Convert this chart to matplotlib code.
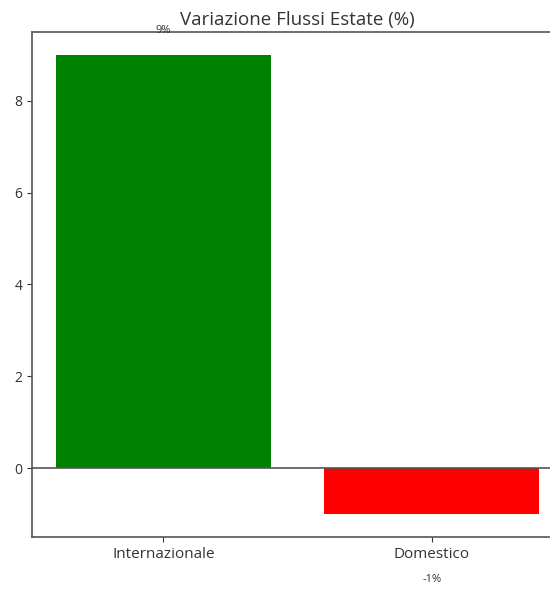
import matplotlib.pyplot as plt

categories = ["Internazionale", "Domestico"]
values = [9, -1]
labels = ["9%", "-1%"]
colors = ["green", "red"]

plt.rcParams["font.family"] = ["Open Sans", "DejaVu Sans"]

fig = plt.figure(figsize=(5.5, 5.9), dpi=100)
ax = fig.add_axes([0.058, 0.09, 0.966, 0.856])

ax.bar(categories, values, color=colors, width=0.8)
ax.axhline(0, color="#555555", linewidth=1.2)
ax.set_ylim(-1.5, 9.5)
ax.set_xlim(-0.49, 1.49)

# value labels
ax.text(0, 9.42, labels[0], ha="center", va="bottom", fontsize=8, color="#333333", clip_on=False)
ax.text(1, -2.3, labels[1], ha="center", va="top", fontsize=8, color="#333333", clip_on=False)

ax.set_title("Variazione Flussi Estate (%)", fontsize=13.5, color="#333333", pad=5)
ax.set_yticks([0, 2, 4, 6, 8])
ax.tick_params(colors="#333333", labelsize=10)
ax.tick_params(axis="x", labelsize=11)
for s in ax.spines.values():
    s.set_color("#555555")
    s.set_linewidth(1.2)

fig.savefig("out.png", dpi=100)
